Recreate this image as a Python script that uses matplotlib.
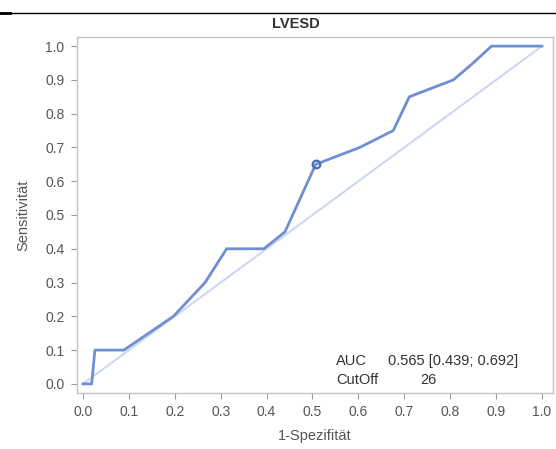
import matplotlib
matplotlib.use("Agg")
import matplotlib.pyplot as plt
from matplotlib.lines import Line2D

# Data
fpr = [0.0, 0.019, 0.026, 0.089, 0.197, 0.266, 0.313, 0.394, 0.44, 0.507,
       0.603, 0.676, 0.711, 0.807, 0.85, 0.89, 1.0]
tpr = [0.0, 0.0, 0.1, 0.1, 0.2, 0.3, 0.4, 0.4, 0.45, 0.65,
       0.70, 0.75, 0.85, 0.90, 0.95, 1.0, 1.0]
cut_fpr = [0.507]
cut_tpr = [0.65]
ticks = [0.0, 0.1, 0.2, 0.3, 0.4, 0.5, 0.6, 0.7, 0.8, 0.9, 1.0]
tick_labels = ["0.0", "0.1", "0.2", "0.3", "0.4", "0.5", "0.6", "0.7", "0.8", "0.9", "1.0"]
title = "LVESD"
auc_text = "0.565 [0.439; 0.692]"
cutoff_text = "26"

plt.rcParams['font.family'] = ['Liberation Sans', 'DejaVu Sans']

W, H = 556, 449
fig = plt.figure(figsize=(W / 100, H / 100), dpi=100)
ax = fig.add_axes([77 / W, 1 - 393 / H, (553 - 77) / W, (393 - 37) / H])

line_col = '#6e8fd3'
diag_col = '#cdd8f0'
gray = '#555555'
spine_col = '#c4c4c4'

ax.plot([0, 1], [0, 1], color=diag_col, lw=1.5, zorder=2)
ax.plot(fpr, tpr, color=line_col, lw=2.0, zorder=3, solid_joinstyle='round')
ax.plot(cut_fpr, cut_tpr, marker='o', ms=5.5, mfc='none', mec='#4a6cb8', mew=1.6,
        ls='none', zorder=4)

ax.set_xlim(-0.013, 1.024)
ax.set_ylim(-0.027, 1.027)
ax.set_xticks(ticks)
ax.set_xticklabels(tick_labels)
ax.set_yticks(ticks)
ax.set_yticklabels(tick_labels)
ax.tick_params(axis='both', colors='#9a9a9a', labelcolor=gray, labelsize=10,
               length=4, width=0.8, direction='out', pad=5)
for s in ax.spines.values():
    s.set_color(spine_col)
    s.set_linewidth(1.0)

ax.set_xlabel("1-Spezifität", color=gray, fontsize=10.5, labelpad=7)
ax.set_ylabel("Sensitivität", color=gray, fontsize=10.5, labelpad=11)

fig.text(296 / W, 1 - 24 / H, title, ha='center', va='center', fontsize=10.5,
         fontweight='bold', color='#333333')

fs = 10.5
fig.text(336 / W, 1 - 361 / H, "AUC", ha='left', va='center', fontsize=fs, color='#333333')
fig.text(388 / W, 1 - 361 / H, auc_text, ha='left', va='center', fontsize=fs, color='#333333')
fig.text(336 / W, 1 - 380 / H, "CutOff", ha='left', va='center', fontsize=fs, color='#333333')
fig.text(420 / W, 1 - 380 / H, cutoff_text, ha='left', va='center', fontsize=fs, color='#333333')

# top rule
fig.add_artist(Line2D([0, 1], [1 - 13 / H, 1 - 13 / H], transform=fig.transFigure,
                      color='black', lw=1.0))
fig.add_artist(Line2D([0, 10 / W], [1 - 13 / H, 1 - 13 / H], transform=fig.transFigure,
                      color='black', lw=2.0))

fig.savefig("out.png", dpi=100)
